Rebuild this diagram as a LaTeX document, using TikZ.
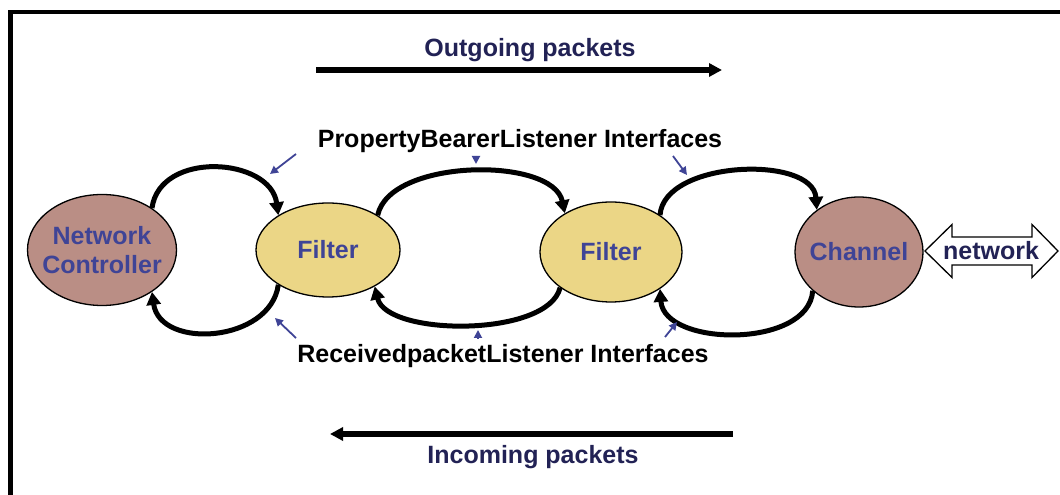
\documentclass[tikz,border=0pt]{standalone}
\usepackage{fontspec}
\setmainfont{Liberation Sans}
\usetikzlibrary{arrows.meta,shapes.geometric}
\definecolor{ctrlfill}{RGB}{186,142,133}
\definecolor{filtfill}{RGB}{235,214,134}
\definecolor{lblblue}{RGB}{63,68,150}
\definecolor{navytext}{RGB}{34,34,85}
\tikzset{
  x=1pt, y=1pt,
  bigfont/.style={font=\fontsize{25}{29.5}\selectfont\bfseries},
  ctrlnode/.style={ellipse, draw=black, line width=1.3pt, fill=ctrlfill, inner sep=0pt},
  filtnode/.style={ellipse, draw=black, line width=1.3pt, fill=filtfill, inner sep=0pt},
  nodetext/.style={bigfont, text=lblblue, align=center, inner sep=0pt},
  flowtext/.style={bigfont, text=navytext, inner sep=0pt},
  ifacetext/.style={bigfont, text=black, inner sep=0pt},
  loopline/.style={line width=5pt, -{Triangle[length=13pt,width=14pt]}},
  dirarrow/.style={line width=5.5pt, -{Triangle[length=13pt,width=13pt]}},
  pointer/.style={draw=lblblue, line width=1.8pt, -{Triangle[length=8pt,width=8pt]}, lblblue},
}
\begin{document}
\begin{tikzpicture}
\useasboundingbox (0,0) rectangle (1060,495);
\clip (0,0) rectangle (1060,495);
\fill[white] (0,0) rectangle (1060,495);

% outer frame
\draw[line width=4.5pt] (10.5,-20) -- (10.5,483) -- (1090,483);

% components
\node[ctrlnode, minimum width=149pt, minimum height=111pt] (nc) at (102,245) {};
\node[nodetext] (nctext) at (nc) {Network\\Controller};
\node[filtnode, minimum width=144pt, minimum height=94pt] (f1) at (328,245) {};
\node[nodetext] (f1text) at (f1) {Filter};
\node[filtnode, minimum width=142pt, minimum height=100pt] (f2) at (611,243) {};
\node[nodetext] (f2text) at (f2) {Filter};
\node[ctrlnode, minimum width=128pt, minimum height=110pt] (ch) at (859,243) {};
\node[nodetext] (chtext) at (ch) {Channel};

% network double arrow
\draw[line width=1.3pt, fill=white]
  (925,244) -- (952,270.5) -- (952,258) -- (1032,258) -- (1032,270.5)
  -- (1058,244) -- (1032,217.5) -- (1032,230) -- (952,230) -- (952,217.5) -- cycle;
\node[bigfont, text=navytext, inner sep=0pt] (net) at (991,244) {network};

% listener loops, outgoing direction (top)
\draw[loopline] (nc.40) .. controls +(8,58) and +(-8,58) .. (f1.145);
\draw[loopline] (f1.35) .. controls +(12,57) and +(-12,57) .. (f2.140);
\draw[loopline] (f2.37) .. controls +(4,55) and +(-4,55) .. (ch.135);
% listener loops, incoming direction (bottom)
\draw[loopline] (f1.215) .. controls +(-8,-58) and +(8,-58) .. (nc.-40);
\draw[loopline] (f2.215) .. controls +(-12,-50) and +(12,-50) .. (f1.-38);
\draw[loopline] (ch.220) .. controls +(-4,-58) and +(4,-58) .. (f2.-37);

% interface labels
\node[ifacetext] (pbl) at (520,354) {PropertyBearerListener Interfaces};
\node[ifacetext] (rpl) at (503,139) {ReceivedpacketListener Interfaces};

% pointers to the interfaces
\coordinate (pa1) at (296,341); \coordinate (pa2) at (270,321);
\coordinate (pb1) at (476,339); \coordinate (pb2) at (476,331);
\coordinate (pc1) at (673,339); \coordinate (pc2) at (687,320);
\coordinate (pd1) at (296,157); \coordinate (pd2) at (275,177);
\coordinate (pe1) at (478,157); \coordinate (pe2) at (478,165);
\coordinate (pf1) at (665,158); \coordinate (pf2) at (677,173);
\draw[pointer] (pa1) -- (pa2);
\draw[pointer] (pb1) -- (pb2);
\draw[pointer] (pc1) -- (pc2);
\draw[pointer] (pd1) -- (pd2);
\draw[pointer] (pe1) -- (pe2);
\draw[pointer] (pf1) -- (pf2);

% packet flow directions
\coordinate (outA) at (316,425); \coordinate (outB) at (722,425);
\draw[dirarrow] (outA) -- (outB);
\node[flowtext] (outtext) at (530,445) {Outgoing packets};
\coordinate (inA) at (733,61); \coordinate (inB) at (330,61);
\draw[dirarrow] (inA) -- (inB);
\node[flowtext] (intext) at (533,38) {Incoming packets};
\end{tikzpicture}
\end{document}
